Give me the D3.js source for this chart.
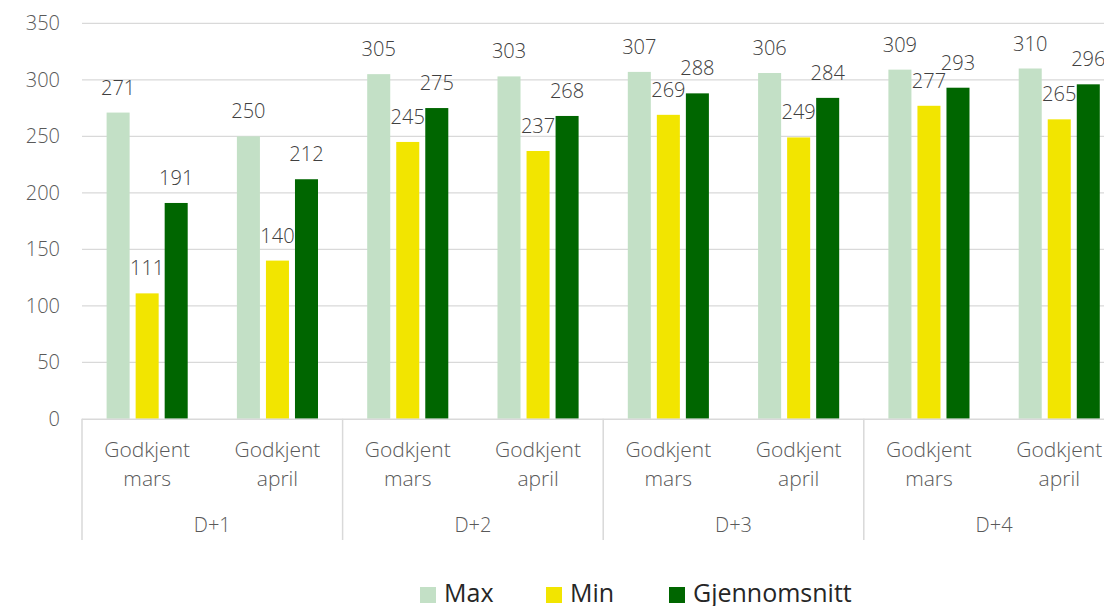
<!DOCTYPE html>
<html>
<head>
<meta charset="utf-8">
<script src="https://cdn.jsdelivr.net/npm/d3@7"></script>
<style>
  html, body { margin: 0; padding: 0; background: #fff; }
  svg { display: block; font-family: "Open Sans", "Noto Sans", sans-serif; }
</style>
</head>
<body>
<svg id="chart" width="1104" height="606"></svg>
<script>
// Data
const groups = ["D+1", "D+2", "D+3", "D+4"];
const months = ["Godkjent mars", "Godkjent april"];
const seriesNames = ["Max", "Min", "Gjennomsnitt"];
const maxValues = [271, 250, 305, 303, 307, 306, 309, 310];
const minValues = [111, 140, 245, 237, 269, 249, 277, 265];
const avgValues = [191, 212, 275, 268, 288, 284, 293, 296];
const yTicks = [0, 50, 100, 150, 200, 250, 300, 350];

const colors = { "Max": "#c3e0c6", "Min": "#f2e500", "Gjennomsnitt": "#006600" };
const seriesValues = { "Max": maxValues, "Min": minValues, "Gjennomsnitt": avgValues };

const categories = [];
groups.forEach(g => months.forEach(m => categories.push({ group: g, label: m, key: g + "|" + m })));

const svg = d3.select("#chart");
const plotLeft = 82, catW = 130.3, plotTop = 23.3, plotBottom = 418.8;

const x0 = d3.scaleBand()
  .domain(categories.map(c => c.key))
  .range([plotLeft, plotLeft + catW * categories.length])
  .padding(0);

const x1 = d3.scaleBand()
  .domain(seriesNames)
  .range([24.6, catW - 24.6])
  .paddingInner(6 / 29)
  .paddingOuter(0);

const y = d3.scaleLinear().domain([0, 350]).range([plotBottom, plotTop]);

const gridColor = "#d9d9d9";
const textColor = "#595959";

// Gridlines
svg.append("g")
  .selectAll("line")
  .data(yTicks.filter(t => t > 0))
  .join("line")
  .attr("x1", plotLeft).attr("x2", 1104)
  .attr("y1", d => y(d)).attr("y2", d => y(d))
  .attr("stroke", gridColor).attr("stroke-width", 1.3);

// Y axis labels
const yAxis = d3.axisLeft(y).tickValues(yTicks).tickSize(0).tickPadding(0);
const gy = svg.append("g").attr("transform", "translate(60,0)").call(yAxis);
gy.select(".domain").remove();
gy.selectAll("text")
  .attr("fill", textColor)
  .style("font-size", "20px")
  .style("font-weight", 300)
  .style("font-family", "'Open Sans', sans-serif");

// Bars
const catG = svg.append("g").selectAll("g")
  .data(categories.map((c, i) => ({ ...c, i })))
  .join("g")
  .attr("transform", d => `translate(${x0(d.key)},0)`);

catG.selectAll("rect")
  .data(d => seriesNames.map(s => ({ s, v: seriesValues[s][d.i] })))
  .join("rect")
  .attr("x", d => x1(d.s))
  .attr("width", x1.bandwidth())
  .attr("y", d => y(d.v))
  .attr("height", d => y(0) - y(d.v))
  .attr("fill", d => colors[d.s]);

// Value labels
catG.selectAll("text.val")
  .data(d => seriesNames.map(s => ({ s, v: seriesValues[s][d.i] })))
  .join("text")
  .attr("class", "val")
  .attr("x", d => x1(d.s) + x1.bandwidth() / 2)
  .attr("y", d => y(d.v) - 18)
  .attr("text-anchor", "middle")
  .attr("fill", "#404040")
  .style("font-size", "20px")
  .style("font-weight", 300)
  .text(d => d.v);

// Category axis baseline
svg.append("line")
  .attr("x1", plotLeft).attr("x2", 1104)
  .attr("y1", plotBottom + 0.5).attr("y2", plotBottom + 0.5)
  .attr("stroke", gridColor).attr("stroke-width", 1.5);

// Group separators
const groupEdges = groups.map((g, i) => plotLeft + i * catW * months.length);
svg.append("g").selectAll("line")
  .data(groupEdges)
  .join("line")
  .attr("x1", d => d).attr("x2", d => d)
  .attr("y1", plotBottom).attr("y2", 540)
  .attr("stroke", gridColor).attr("stroke-width", 1.5);

// Category labels (two lines)
const catLabels = svg.append("g").selectAll("text")
  .data(categories)
  .join("text")
  .attr("x", d => x0(d.key) + catW / 2)
  .attr("y", 457)
  .attr("text-anchor", "middle")
  .attr("fill", textColor)
  .style("font-size", "21px")
  .style("font-weight", 300);
catLabels.selectAll("tspan")
  .data(d => d.label.split(" "))
  .join("tspan")
  .attr("x", function () { return d3.select(this.parentNode).attr("x"); })
  .attr("dy", (d, i) => i === 0 ? 0 : 28.5)
  .text(d => d);

// Group labels
svg.append("g").selectAll("text")
  .data(groups)
  .join("text")
  .attr("x", (d, i) => groupEdges[i] + catW)
  .attr("y", 532)
  .attr("text-anchor", "middle")
  .attr("fill", textColor)
  .style("font-size", "20px")
  .style("font-weight", 300)
  .text(d => d);

// Legend
const legendX = [420, 546, 669];
const legend = svg.append("g").selectAll("g")
  .data(seriesNames)
  .join("g")
  .attr("transform", (d, i) => `translate(${legendX[i]},587)`);
legend.append("rect")
  .attr("width", 16).attr("height", 16)
  .attr("fill", d => colors[d]);
legend.append("text")
  .attr("x", 24).attr("y", 15)
  .attr("fill", "#262626")
  .style("font-size", "25px")
  .style("font-weight", 400)
  .text(d => d);
</script>
</body>
</html>
